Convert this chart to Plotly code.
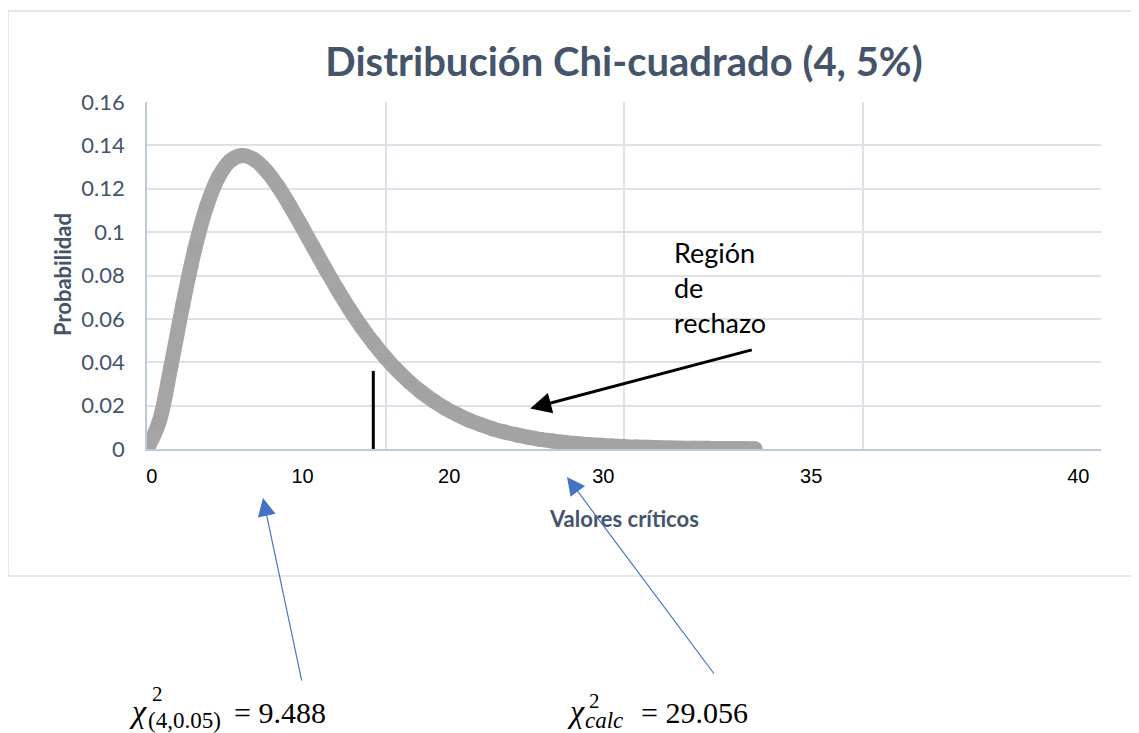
import plotly.graph_objects as go

# curve (step 0.5)
x_vals = [0, 0.5, 1, 1.5, 2, 2.5, 3, 3.5, 4, 4.5, 5, 5.5, 6, 6.5, 7, 7.5, 8, 8.5,
          9, 9.5, 10, 10.5, 11, 11.5, 12, 12.5, 13, 13.5, 14, 14.5, 15, 15.5, 16,
          16.5, 17, 17.5, 18, 18.5, 19, 19.5, 20, 20.5, 21, 21.5, 22, 22.5, 23,
          23.5, 24, 24.5, 25, 25.5]
y_vals = [0, 0.0122, 0.0379, 0.0664, 0.0920, 0.1119, 0.1255, 0.1330, 0.1353,
          0.1334, 0.1283, 0.1209, 0.1120, 0.1024, 0.0925, 0.0827, 0.0733,
          0.0644, 0.0562, 0.0488, 0.0421, 0.0362, 0.0309, 0.0263, 0.0223,
          0.0188, 0.0159, 0.0133, 0.0112, 0.0093, 0.0078, 0.0065, 0.0054,
          0.0044, 0.0037, 0.0030, 0.0025, 0.0021, 0.0017, 0.0014, 0.0011,
          0.0009, 0.0008, 0.0006, 0.0005, 0.0004, 0.0003, 0.0003, 0.0002,
          0.0002, 0.0002, 0.0001]

# critical value marker
crit_x = 9.488
crit_h = 0.036

# x labels as they sit on the picture (text boxes, not on the grid)
x_label_text = ["0", "10", "20", "30", "35", "40"]
x_label_pos = [0.2, 6.52, 12.67, 19.13, 27.85, 39.05]

title = "Distribución Chi-cuadrado (4, 5%)"
slate = "#44546A"
grid = "#DDE2EA"

# plot area on the page: x 147..1101, y 102..449 (page has 8px body margin)
W, H = 1131, 725


def px(x):
    return (x - 147) / 954


def py(y):
    return (449 - y) / 347


fig = go.Figure()

fig.add_trace(go.Scatter(
    x=x_vals, y=y_vals,
    mode="lines+markers",
    line=dict(color="#A5A5A5", width=15, shape="spline"),
    marker=dict(size=15, color="#A3A3A3"),
    showlegend=False,
    hoverinfo="skip"
))

fig.add_trace(go.Scatter(
    x=[crit_x, crit_x], y=[0, crit_h],
    mode="lines",
    line=dict(color="black", width=3),
    showlegend=False,
    hoverinfo="skip"
))

# dummy trace so xaxis2 is drawn
fig.add_trace(go.Scatter(
    x=[None], y=[None], xaxis="x2", yaxis="y",
    showlegend=False, hoverinfo="skip"
))

fig.update_layout(
    width=W,
    height=H,
    margin=dict(l=139, r=38, t=94, b=284),
    paper_bgcolor="white",
    plot_bgcolor="white",
    title=dict(
        text=f"<b>{title}</b>",
        xref="paper", x=0.5, xanchor="center",
        y=1 - 54 / H, yanchor="middle",
        font=dict(family="Lato", size=40, color=slate)
    ),
    xaxis=dict(
        range=[0, 40], dtick=10,
        showgrid=True, gridcolor=grid, gridwidth=1.5,
        zeroline=False, showline=True, linecolor="#BFC9D8", linewidth=1.5,
        showticklabels=False, ticks=""
    ),
    xaxis2=dict(
        overlaying="x", side="bottom", anchor="y",
        range=[0, 40],
        tickmode="array", tickvals=x_label_pos, ticktext=x_label_text,
        showgrid=False, zeroline=False, showline=False, ticks="",
        ticklabelstandoff=13,
        tickfont=dict(family="Liberation Sans", size=20, color="black")
    ),
    yaxis=dict(
        range=[0, 0.16], dtick=0.02,
        showgrid=True, gridcolor=grid, gridwidth=1.5,
        zeroline=False, showline=True, linecolor="#BFC9D8", linewidth=1.5,
        ticks="", ticklabelstandoff=16,
        tickfont=dict(family="Lato", size=22, color=slate)
    ),
)

# chart border
fig.add_shape(
    type="rect", xref="paper", yref="paper",
    x0=px(8), x1=px(1145), y0=py(576), y1=py(11),
    line=dict(color="#DCE1E8", width=1.5), layer="below"
)

# axis titles
fig.add_annotation(
    text="<b>Probabilidad</b>", xref="paper", yref="paper",
    x=px(62), y=py(275), textangle=-90, xanchor="center", yanchor="middle",
    showarrow=False, font=dict(family="Lato", size=22, color=slate)
)
fig.add_annotation(
    text="<b>Valores críticos</b>", xref="paper", yref="paper",
    x=0.5, y=py(518), xanchor="center", yanchor="middle",
    showarrow=False, font=dict(family="Lato", size=22, color=slate)
)

# rejection region note
fig.add_annotation(
    text="Región<br>de<br>rechazo", xref="paper", yref="paper",
    x=px(672), y=py(234),
    xanchor="left", yanchor="top", align="left",
    showarrow=False, font=dict(family="Lato", size=27, color="black")
)
fig.add_annotation(
    x=16.07, y=0.0187, ax=25.42, ay=0.0459,
    xref="x", yref="y", axref="x", ayref="y",
    text="", showarrow=True, arrowhead=2, arrowsize=1.4,
    arrowwidth=3, arrowcolor="black"
)

# blue arrows to the values
fig.add_annotation(
    x=px(263), y=py(498), ax=39, ay=184,
    xref="paper", yref="paper",
    text="", showarrow=True, arrowhead=2, arrowsize=3,
    arrowwidth=1.2, arrowcolor="#4472C4"
)
fig.add_annotation(
    x=px(567), y=py(477), ax=148, ay=198,
    xref="paper", yref="paper",
    text="", showarrow=True, arrowhead=2, arrowsize=3,
    arrowwidth=1.2, arrowcolor="#4472C4"
)


# formulas, built from pieces so super/subscripts stack
def math_text(text, x, y, size, italic=False):
    fig.add_annotation(
        text=f"<i>{text}</i>" if italic else text,
        xref="paper", yref="paper", x=px(x), y=py(y),
        xanchor="left", yanchor="middle", showarrow=False,
        font=dict(family="Liberation Serif", size=size, color="black")
    )


math_text("χ", 127, 711, 32, italic=True)
math_text("2", 150, 694, 21)
math_text("(4,0.05)", 146, 720, 23)
math_text("= 9.488", 232, 712, 30)

math_text("χ", 565, 711, 32, italic=True)
math_text("2", 587, 701, 21)
math_text("calc", 583, 720, 23, italic=True)
math_text("= 29.056", 639, 712, 30)

fig.write_html("out.html")
